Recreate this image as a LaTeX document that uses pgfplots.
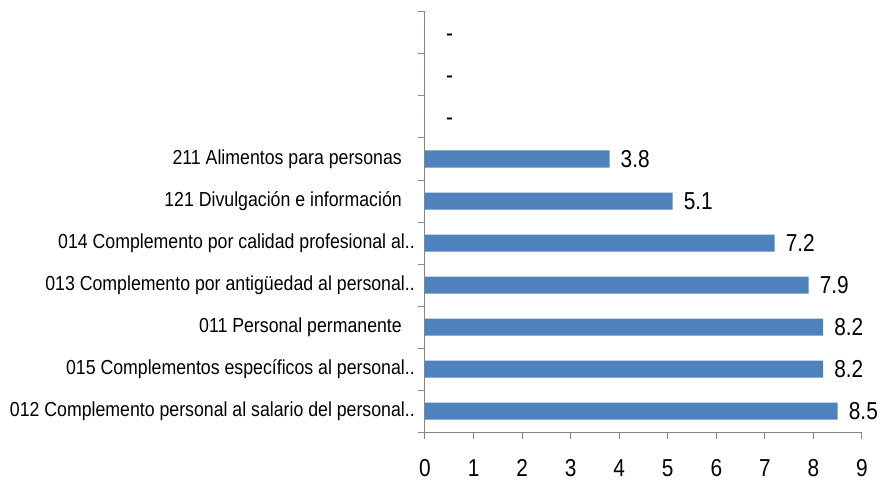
\documentclass[border=0pt]{standalone}
\usepackage{pgfplots}
\pgfplotsset{compat=1.18}
\usepackage{pgfplotstable}
\usepackage{fontspec}
\setmainfont{Liberation Sans}[FakeStretch=0.85]
\newfontfamily\catfont{Liberation Sans}[FakeStretch=0.873]
\definecolor{barblue}{HTML}{4F81BD}
\definecolor{axgray}{HTML}{868686}
\pgfplotstableread[col sep=comma]{
pos,val,lab
0,8.5,8.5
1,8.2,8.2
2,8.2,8.2
3,7.9,7.9
4,7.2,7.2
5,5.1,5.1
6,3.8,3.8
7,0,\kern10pt-
8,0,\kern10pt-
9,0,\kern10pt-
}\datatable
\begin{document}
\begin{tikzpicture}
\path[use as bounding box] (-425pt,-53pt) rectangle (455pt,432pt);
\begin{axis}[
  scale only axis,
  width=437pt, height=420pt,
  at={(0pt,0pt)}, anchor=south west,
  xbar, bar width=17pt, bar shift=0pt,
  xmin=0, xmax=9, ymin=-0.5, ymax=9.5,
  axis lines=left,
  axis line style={-, axgray, line width=1pt},
  xtick={0,...,9},
  ytick={-0.5,0.5,...,9.5},
  yticklabels={},
  tick style={axgray, line width=1pt},
  tick align=outside,
  major tick length=7pt,
  extra y ticks={0,...,9},
  extra y tick labels={012 Complemento personal al salario del personal..,
    015 Complementos específicos al personal..,
    011 Personal permanente\kern13pt,
    013 Complemento por antigüedad al personal..,
    014 Complemento por calidad profesional al..,
    121 Divulgación e información\kern13pt,
    211 Alimentos para personas\kern13pt,{},{},{}},
  extra y tick style={major tick length=0pt,
    yticklabel style={anchor=east, inner sep=0pt, xshift=-10pt,
      font=\catfont\fontsize{20.3}{22}\selectfont}},
  /pgf/number format/assume math mode=true,
  xticklabel style={font=\fontsize{24.5}{27}\selectfont, anchor=north, inner sep=0pt, yshift=-20pt},
  nodes near coords,
  point meta=explicit symbolic,
  nodes near coords style={font=\fontsize{24.5}{27}\selectfont, anchor=west, inner sep=0pt, xshift=11pt, text height=17.5pt, text depth=0pt},
]
\addplot[fill=barblue, draw=none] table[x=val, y=pos, meta=lab] {\datatable};
\end{axis}
\end{tikzpicture}
\end{document}
